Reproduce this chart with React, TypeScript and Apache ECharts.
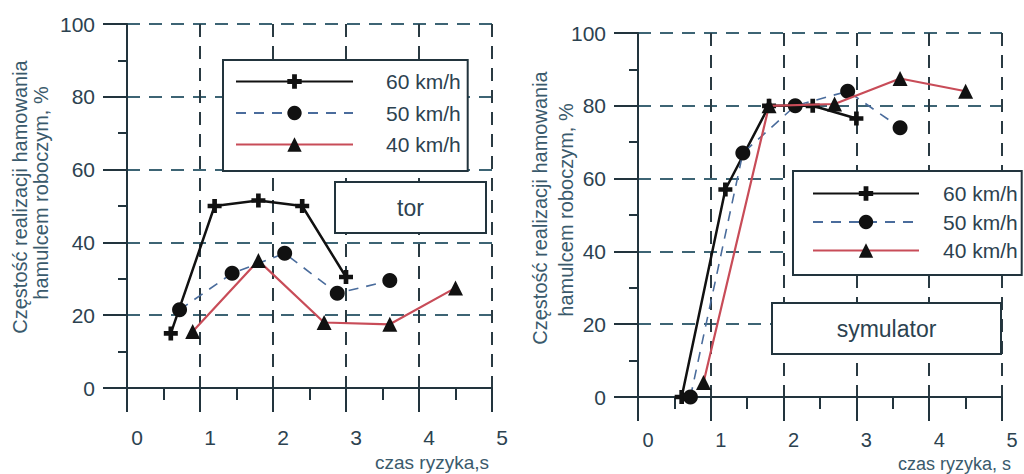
import React, { useEffect, useRef } from "react";
import * as echarts from "echarts";

// Speeds shown in both panels
const speeds = ["60 km/h", "50 km/h", "40 km/h"];

// Risk time [s] at each measurement point, per speed
const riskTime60 = [0.6, 1.2, 1.8, 2.4, 3.0];
const riskTime50 = [0.72, 1.44, 2.16, 2.88, 3.6];
const riskTime40 = [0.9, 1.8, 2.7, 3.6, 4.5];

// Braking frequency [%] on the test track ("tor")
const torFreq60 = [15, 50, 51.5, 50, 30.5];
const torFreq50 = [21.5, 31.5, 37, 26, 29.5];
const torFreq40 = [15.5, 35, 18, 17.5, 27.5];

// Braking frequency [%] in the driving simulator ("symulator")
const symFreq60 = [0, 57, 80, 80, 76.5];
const symFreq50 = [0, 67, 80, 84, 74];
const symFreq40 = [4, 80, 80.5, 87.5, 84];

const xTitleTor = "czas ryzyka,s";
const xTitleSym = "czas ryzyka, s";
const yTitle1 = "Częstość realizacji hamowania";
const yTitle2 = "hamulcem roboczym, %";

const FONT = "Liberation Sans, Arial, sans-serif";
const AXIS = "#22343d";
const TEXT = "#2c4250";
const TITLE = "#3a5a6c";
const HGRID = "#3d6474";
const VGRID = "#2a3a42";

const plusPath = "path://M4,0H8V4H12V8H8V12H4V8H0V4H4Z";

const zip = (xs: number[], ys: number[]) => xs.map((x, i) => [x, ys[i]]);

function xAxisFor(gridIndex: number, labelMargin: number, labelSize: number) {
  return {
    gridIndex,
    type: "value",
    min: 0,
    max: 5,
    interval: 1,
    axisLine: { onZero: false, lineStyle: { color: AXIS, width: 2 } },
    axisTick: { show: true, length: 24, lineStyle: { color: AXIS, width: 2 } },
    minorTick: { show: true, splitNumber: 2, length: 12, lineStyle: { color: AXIS, width: 2 } },
    splitLine: { show: true, lineStyle: { color: VGRID, width: 2, type: [13, 9] } },
    axisLabel: {
      fontSize: labelSize,
      lineHeight: 16,
      fontFamily: FONT,
      color: TEXT,
      margin: labelMargin,
      padding: [0, 0, 0, 20],
    },
  };
}

function yAxisFor(gridIndex: number) {
  return {
    gridIndex,
    type: "value",
    min: 0,
    max: 100,
    interval: 20,
    axisLine: { show: true, onZero: false, lineStyle: { color: AXIS, width: 2 } },
    axisTick: { show: true, length: 24, lineStyle: { color: AXIS, width: 2 } },
    minorTick: { show: true, splitNumber: 2, length: 9, lineStyle: { color: AXIS, width: 2 } },
    splitLine: { show: true, lineStyle: { color: HGRID, width: 2, type: [13, 9] } },
    axisLabel: { fontSize: 21, fontFamily: FONT, color: TEXT, margin: 32 },
  };
}

function seriesFor(idx: number, f60: number[], f50: number[], f40: number[]) {
  return [
    {
      name: speeds[0],
      type: "line",
      xAxisIndex: idx,
      yAxisIndex: idx,
      data: zip(riskTime60, f60),
      symbol: plusPath,
      symbolSize: 14,
      itemStyle: { color: "#111111" },
      lineStyle: { color: "#111111", width: 2.5 },
      z: 3,
    },
    {
      name: speeds[1],
      type: "line",
      xAxisIndex: idx,
      yAxisIndex: idx,
      data: zip(riskTime50, f50),
      symbol: "circle",
      symbolSize: 15,
      itemStyle: { color: "#111111" },
      lineStyle: { color: "#4a6c9c", width: 1.6, type: [10, 8] },
      z: 4,
    },
    {
      name: speeds[2],
      type: "line",
      xAxisIndex: idx,
      yAxisIndex: idx,
      data: zip(riskTime40, f40),
      symbol: "triangle",
      symbolSize: 15,
      itemStyle: { color: "#111111" },
      lineStyle: { color: "#c84c58", width: 2.2 },
      z: 5,
    },
  ];
}

function boxedLabel(x: number, y: number, w: number, h: number, label: string) {
  return [
    {
      type: "rect",
      shape: { x, y, width: w, height: h },
      style: { fill: "#ffffff", stroke: AXIS, lineWidth: 2 },
      z: 10,
    },
    {
      type: "text",
      x: x + w / 2,
      y: y + h / 2,
      style: { text: label, fontSize: 23, fontFamily: FONT, fill: TEXT, align: "center", verticalAlign: "middle" },
      z: 11,
    },
  ];
}

function verticalTitle(x: number, y: number, label: string) {
  return {
    type: "text",
    x,
    y,
    rotation: Math.PI / 2,
    style: { text: label, fontSize: 20, fontFamily: FONT, fill: TITLE, align: "center", verticalAlign: "middle" },
    z: 11,
  };
}

function plainText(x: number, y: number, label: string, size: number) {
  return {
    type: "text",
    x,
    y,
    style: {
      text: label,
      fontSize: size,
      lineHeight: 16,
      fontFamily: FONT,
      fill: TITLE,
      align: "left",
      verticalAlign: "middle",
    },
    z: 11,
  };
}

export default function App() {
  const ref = useRef<HTMLDivElement>(null);

  useEffect(() => {
    if (!ref.current) return;
    const chart = echarts.init(ref.current, null, { renderer: "svg" });

    const legendBase = {
      orient: "vertical",
      data: speeds,
      backgroundColor: "#ffffff",
      borderColor: AXIS,
      borderWidth: 2,
      borderRadius: 0,
      selectedMode: false,
      itemHeight: 18,
      textStyle: { fontSize: 21, fontFamily: FONT, color: TEXT },
      z: 10,
    };

    chart.setOption({
      animation: false,
      backgroundColor: "#ffffff",
      textStyle: { fontFamily: FONT },
      grid: [
        { left: 127, top: 24, width: 365, height: 364 },
        { left: 638, top: 33, width: 364, height: 364 },
      ],
      xAxis: [xAxisFor(0, 41, 21), xAxisFor(1, 35, 20)],
      yAxis: [yAxisFor(0), yAxisFor(1)],
      legend: [
        {
          ...legendBase,
          left: 223,
          top: 60,
          itemWidth: 117,
          itemGap: 10.5,
          padding: [11, 7, 16, 12],
          textStyle: { ...legendBase.textStyle, padding: [0, 0, 0, 28] },
        },
        {
          ...legendBase,
          left: 793,
          top: 171,
          itemWidth: 106,
          itemGap: 7.5,
          padding: [12, 4, 14, 19],
          textStyle: { ...legendBase.textStyle, padding: [0, 0, 0, 19] },
        },
      ],
      graphic: [
        ...boxedLabel(335, 182, 151, 51, "tor"),
        ...boxedLabel(772, 303, 229, 51, "symulator"),
        verticalTitle(20, 197, yTitle1),
        verticalTitle(41, 193, yTitle2),
        verticalTitle(540, 208, yTitle1),
        verticalTitle(566, 210, yTitle2),
        plainText(375, 462, xTitleTor, 19),
        plainText(898, 464, xTitleSym, 18),
      ],
      series: [
        ...seriesFor(0, torFreq60, torFreq50, torFreq40),
        ...seriesFor(1, symFreq60, symFreq50, symFreq40),
      ],
    });

    return () => chart.dispose();
  }, []);

  return (
    <div
      ref={ref}
      style={{ position: "absolute", left: 0, top: 0, width: 1024, height: 474 }}
    />
  );
}
